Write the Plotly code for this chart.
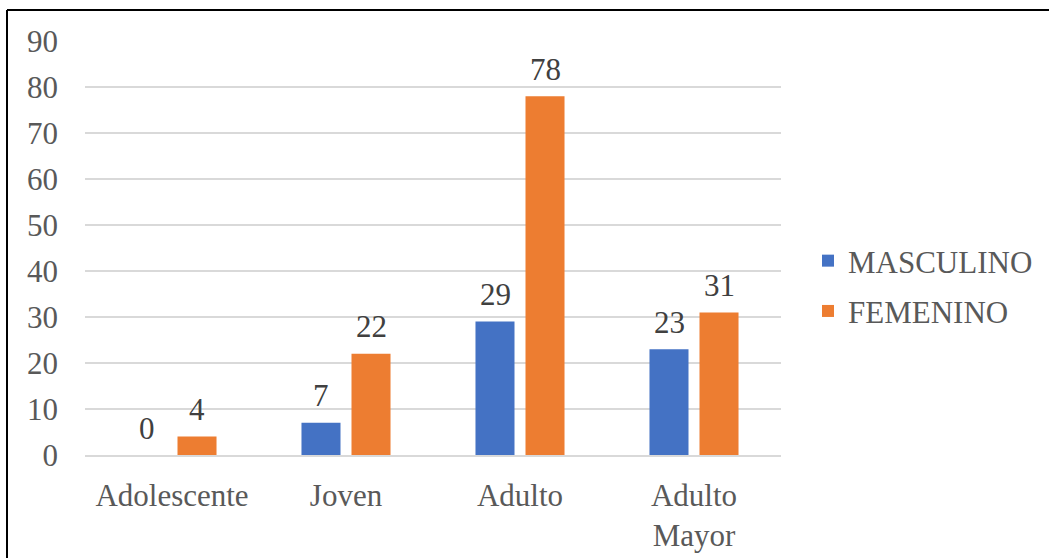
import plotly.graph_objects as go

categories = ["Adolescente", "Joven", "Adulto", "Adulto<br>Mayor"]
masculino = [0, 7, 29, 23]
femenino = [4, 22, 78, 31]
y_ticks = [0, 10, 20, 30, 40, 50, 60, 70, 80, 90]

W, H = 1049, 558
L, R, T, B = 85, 268, 41, 103
pw, ph = W - L - R, H - T - B

FONT = "Liberation Serif"
TICK_COLOR = "#595959"
LABEL_COLOR = "#404040"
BLUE = "#4472C4"
ORANGE = "#ED7D31"

fig = go.Figure()
fig.add_trace(go.Bar(
    name="MASCULINO", x=categories, y=masculino, legendgroup="m",
    marker=dict(color=BLUE, line=dict(width=0)),
))
fig.add_trace(go.Bar(
    name="FEMENINO", x=categories, y=femenino, legendgroup="f",
    marker=dict(color=ORANGE, line=dict(width=0)),
))

# value labels above each bar, offset to sit over its bar within the group
for series, shift in ((masculino, -25), (femenino, 25)):
    for cat, val in zip(categories, series):
        fig.add_annotation(
            x=cat, y=val, xref="x", yref="y", text=str(val), showarrow=False,
            xshift=shift, yshift=27, yanchor="middle",
            font=dict(family=FONT, size=31, color=LABEL_COLOR),
        )

# frame lines around the chart (left and top edges)
def px_x(px):
    return (px - L) / pw

def px_y(py):
    return (H - B - py) / ph

fig.add_shape(type="line", xref="paper", yref="paper",
              x0=px_x(7), x1=px_x(7), y0=px_y(10), y1=px_y(600),
              line=dict(color="black", width=2))
fig.add_shape(type="line", xref="paper", yref="paper",
              x0=px_x(7), x1=px_x(1100), y0=px_y(10), y1=px_y(10),
              line=dict(color="black", width=2))

fig.update_layout(
    width=W, height=H,
    margin=dict(l=L, r=R, t=T, b=B, autoexpand=False),
    paper_bgcolor="white", plot_bgcolor="white",
    barmode="group", bargap=0.425, bargroupgap=0.22,
    font=dict(family=FONT, size=31, color=TICK_COLOR),
    showlegend=True,
    legend=dict(
        x=px_x(808), y=px_y(234), xanchor="left", yanchor="top",
        font=dict(family=FONT, size=31, color=TICK_COLOR),
        itemwidth=30, traceorder="grouped", tracegroupgap=7,
        bgcolor="rgba(0,0,0,0)",
    ),
)
fig.update_xaxes(
    showgrid=False, showline=True, linecolor="#D9D9D9", linewidth=1.5,
    ticks="", tickfont=dict(family=FONT, size=31, color=TICK_COLOR),
    ticklabelstandoff=12,
)
fig.update_yaxes(
    range=[0, 90], tickvals=y_ticks, showgrid=True, gridcolor="#D9D9D9",
    gridwidth=1.5, zeroline=False, showline=False, ticks="",
    tickfont=dict(family=FONT, size=31, color=TICK_COLOR),
    ticklabelstandoff=26,
)

fig.write_html("out.html")
